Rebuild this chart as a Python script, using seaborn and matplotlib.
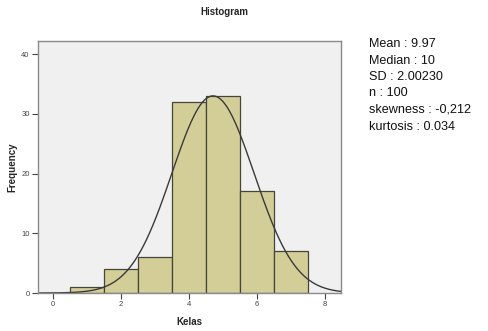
import numpy as np
import matplotlib
matplotlib.use("Agg")
import matplotlib.pyplot as plt
import seaborn as sns

# data
kelas = [1, 2, 3, 4, 5, 6, 7]
frekuensi = [1, 4, 6, 32, 33, 17, 7]
stat_lines = ["Mean : 9.97", "Median : 10", "SD : 2.00230", "n : 100",
              "skewness : -0,212", "kurtosis : 0.034"]

sns.set_style("white")
plt.rcParams["font.family"] = ["Liberation Sans", "DejaVu Sans"]

fig = plt.figure(figsize=(4.89, 3.31), dpi=100)
ax = fig.add_axes([38 / 489, 1 - 293 / 331, 303 / 489, 252 / 331])
ax.set_facecolor("#f0f0f0")

sns.histplot(x=kelas, weights=frekuensi, discrete=True, ax=ax,
             color="#d3ce97", edgecolor="#45453a", linewidth=0.9, alpha=1)

# normal curve fitted to the grouped data
x_arr = np.array(kelas, dtype=float)
f_arr = np.array(frekuensi, dtype=float)
n = f_arr.sum()
mu = (x_arr * f_arr).sum() / n
sd = np.sqrt((f_arr * (x_arr - mu) ** 2).sum() / (n - 1))
xs = np.linspace(-0.43, 8.47, 300)
ys = n / (sd * np.sqrt(2 * np.pi)) * np.exp(-0.5 * ((xs - mu) / sd) ** 2)
sns.lineplot(x=xs, y=ys, ax=ax, color="#3a3a3a", linewidth=1.0)

ax.set_xlim(-0.43, 8.47)
ax.set_ylim(0, 42.2)
ax.set_xticks([0, 2, 4, 6, 8])
ax.set_yticks([0, 10, 20, 30, 40])
ax.tick_params(axis="both", labelsize=5.5, colors="#444444", length=4,
               width=0.8, direction="out", bottom=True, left=True, pad=2)
for s in ax.spines.values():
    s.set_color("#8a8a8a")
    s.set_linewidth(1.0)

ax.set_xlabel("Kelas", fontsize=7, fontweight="bold", labelpad=6)
ax.set_ylabel("Frequency", fontsize=7, fontweight="bold", labelpad=3)
fig.text(224 / 489, 1 - 12 / 331, "Histogram", ha="center", va="center",
         fontsize=7, fontweight="bold")

fig.text(369 / 489, 1 - 38 / 331, "\n".join(stat_lines), ha="left", va="top",
         fontsize=9.1, linespacing=1.5, color="#111111")

fig.savefig("out.png", dpi=100)
